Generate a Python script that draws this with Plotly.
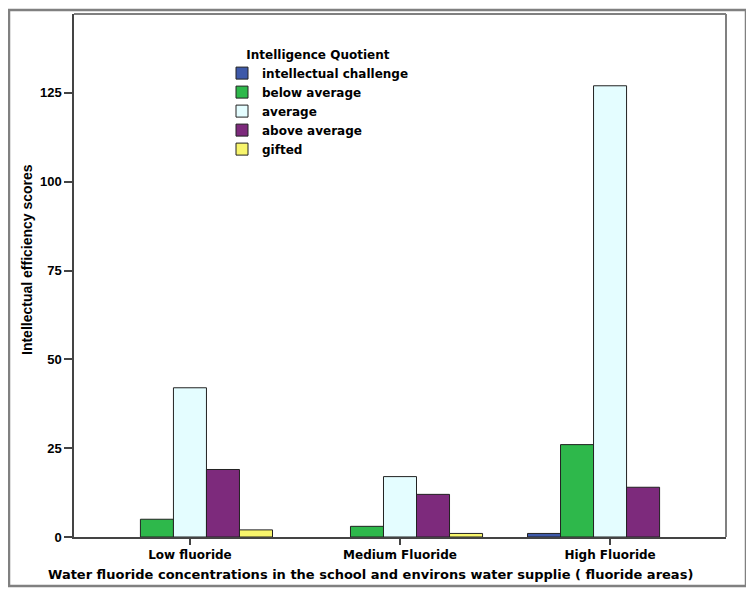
import plotly.graph_objects as go

categories = ["Low fluoride", "Medium Fluoride", "High Fluoride"]
series_names = ["intellectual challenge", "below average", "average", "above average", "gifted"]
intellectual_challenge = [0, 0, 1]
below_average = [5, 3, 26]
average = [42, 17, 127]
above_average = [19, 12, 14]
gifted = [2, 1, 0]
series_values = [intellectual_challenge, below_average, average, above_average, gifted]
colors = ["#3e59a9", "#2eb84b", "#e4fdff", "#7d2a7c", "#f8f56c"]
y_ticks = [0, 25, 50, 75, 100, 125]
x_title = "Water fluoride concentrations in the school and environs water supplie ( fluoride areas)"
y_title = "Intellectual efficiency scores"

fig = go.Figure()
for name, vals, col in zip(series_names, series_values, colors):
    fig.add_trace(go.Bar(
        x=categories, y=[v if v else None for v in vals], name=name,
        marker=dict(color=col, line=dict(color="#222222", width=1)),
    ))

# page has an 8px body margin; figure sized to fit the 754x592 window
OFF = 8
FW, FH = 754 - OFF, 592 - OFF
L, R, T, B = 74, 726, 14, 537  # plot area in window pixels
W, H = R - L, B - T

def px(x):
    return (x - L) / W

def py(y):
    return (B - y) / H

VERD = "DejaVu Sans, Verdana, sans-serif"
ARIAL = "Liberation Sans, Arial, sans-serif"

fig.update_layout(
    width=FW, height=FH,
    margin=dict(l=L - OFF, r=FW - (R - OFF), t=T - OFF, b=FH - (B - OFF), autoexpand=False),
    paper_bgcolor="white", plot_bgcolor="white",
    barmode="group", bargap=0.214, bargroupgap=0,
    font=dict(family=ARIAL, color="black", size=12),
    showlegend=True,
    legend=dict(
        title=dict(text="Intelligence Quotient", side="top center",
                   font=dict(family=VERD, size=12, weight="bold", color="black")),
        font=dict(family=VERD, size=12, color="black", weight="bold"),
        x=px(222), y=py(43), xanchor="left", yanchor="top",
        bgcolor="rgba(0,0,0,0)", borderwidth=0, tracegroupgap=0,
        itemwidth=30,
    ),
    xaxis=dict(
        range=[-0.552, 2.552], showgrid=False, automargin=False,
        showline=True, linecolor="#444444", linewidth=1.5,
        ticks="outside", ticklen=6, tickcolor="#444444", tickwidth=1.5,
        tickfont=dict(family=VERD, size=12, weight="bold"),
        tickvals=categories,
    ),
    yaxis=dict(
        range=[0, 147.2], showgrid=False, zeroline=False, automargin=False,
        showline=True, linecolor="#444444", linewidth=1.5,
        ticks="outside", ticklen=8, tickcolor="#444444", tickwidth=1.5,
        tickvals=y_ticks,
        tickfont=dict(family=ARIAL, size=13, weight="bold"),
    ),
    annotations=[
        dict(text=x_title, xref="paper", yref="paper", x=px(370), y=py(574),
             xanchor="center", yanchor="middle", showarrow=False,
             font=dict(family=VERD, size=13, weight="bold", color="black")),
        dict(text=y_title, xref="paper", yref="paper", x=px(27), y=py(260),
             xanchor="center", yanchor="middle", showarrow=False, textangle=-90,
             font=dict(family=ARIAL, size=14, weight="bold", color="black")),
    ],
    shapes=[
        dict(type="line", xref="paper", yref="paper", x0=0, x1=1, y0=1, y1=1,
             line=dict(color="#808080", width=2)),
        dict(type="line", xref="paper", yref="paper", x0=1, x1=1, y0=0, y1=1,
             line=dict(color="#808080", width=2)),
        dict(type="rect", xref="paper", yref="paper",
             x0=px(9), x1=px(746), y0=py(586), y1=py(10),
             line=dict(color="#808080", width=2.5), layer="below"),
    ],
)

fig.write_html("out.html")
